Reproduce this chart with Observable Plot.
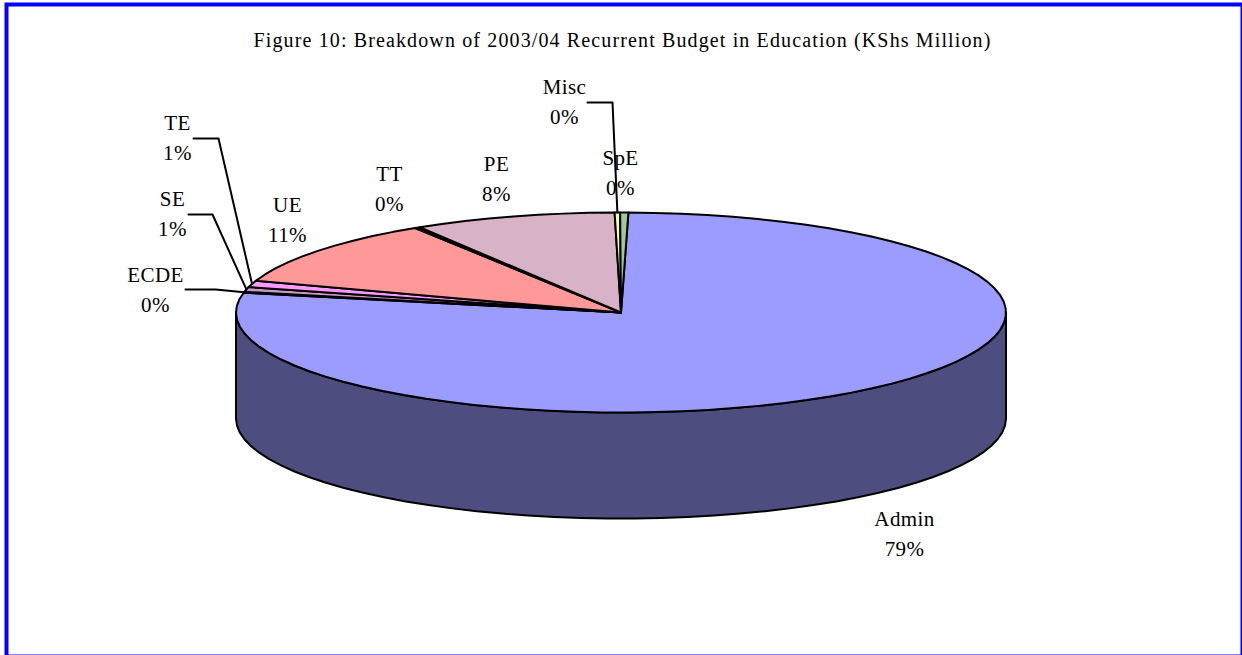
<!DOCTYPE html>
<html><head><meta charset="utf-8">
<script src="https://cdn.jsdelivr.net/npm/d3@7"></script>
<script src="https://cdn.jsdelivr.net/npm/@observablehq/plot@0.6"></script>
<style>html,body{margin:0;padding:0;background:#fff}svg{display:block}
.chart-title text{letter-spacing:1.13px}
.chart-label text{letter-spacing:0.4px}</style>
</head><body><div id="chart"></div>
<script>
const categories = ["Admin","ECDE","SE","TE","UE","TT","PE","Misc","SpE"];
const shares = [77.9,0.14,0.78,1.03,10.9,0.22,8.5,0.23,0.34];
const percentLabels = ["79%","0%","1%","1%","11%","0%","8%","0%","0%"];
const colors = ["#9C9CFF","#993366","#CC99CC","#FF99FF","#FF9999","#660066","#D8B2C6","#FFFF99","#99CC99"];
const title = "Figure 10: Breakdown of 2003/04 Recurrent Budget in Education (KShs Million)";

// layout (pixels on the page)
const W = 1242, H = 655, CX = 620.5, CY = 312, RX = 385, RY = 100, DEPTH = 1.06;
const labelAt = {Admin:[904,534],ECDE:[155,290],SE:[172,214],TE:[177,138],UE:[287,220],TT:[389,189],PE:[496,179],Misc:[564,102],SpE:[620,173]};
const elbows = {ECDE:[[185,289],[215,289]],SE:[[188,214],[212,214]],TE:[[193,138],[218,138]],Misc:[[587,102],[612,102]]};
const px = p => (p - CX) / RX, py = p => (CY - p) / RY;

const startAngle = 1.1 * Math.PI / 180;
const arcs = d3.pie().sort(null).startAngle(startAngle).endAngle(startAngle + 2 * Math.PI)
  .value((d, i) => shares[i])(categories);
// plane coordinates: the pie runs clockwise from the top
const rim = (a, drop = 0) => ({x: Math.sin(a), y: Math.cos(a) - drop});
function arcPoints(a0, a1, drop = 0) {
  const n = Math.max(2, Math.ceil(Math.abs(a1 - a0) / (4 * Math.PI / 180)));
  return d3.range(n + 1).map(i => rim(a0 + (a1 - a0) * i / n, drop));
}
const slices = arcs.map((s, i) => ({
  name: categories[i], color: colors[i], mid: (s.startAngle + s.endAngle) / 2,
  points: [{x: 0, y: 0}, ...arcPoints(s.startAngle, s.endAngle), {x: 0, y: 0}]
}));
// the visible wall: front half of the rim, extruded downward
const wall = [...arcPoints(Math.PI / 2, 3 * Math.PI / 2), ...arcPoints(3 * Math.PI / 2, Math.PI / 2, DEPTH)];
wall.push(wall[0]);

const labels = categories.map((c, i) => ({x: px(labelAt[c][0]), y: py(labelAt[c][1] - 3), t: c + "\n" + percentLabels[i]}));
const leaders = Object.keys(elbows).map(c => {
  const s = slices.find(d => d.name === c);
  return [...elbows[c].map(([a, b]) => ({x: px(a), y: py(b)})), rim(s.mid)];
});

const chart = Plot.plot({
  width: W, height: H, margin: 0, style: {background: "#fff"},
  x: {domain: [px(0), px(W)], range: [0, W], axis: null},
  y: {domain: [py(H), py(0)], range: [H, 0], axis: null},
  marks: [
    Plot.line(wall, {x: "x", y: "y", fill: "#4D4D80", stroke: "#000", strokeWidth: 2}),
    ...slices.map(s => Plot.line(s.points, {x: "x", y: "y", fill: s.color, stroke: "#000", strokeWidth: 2, strokeLinejoin: "round"})),
    ...leaders.map(l => Plot.line(l, {x: "x", y: "y", stroke: "#000", strokeWidth: 2})),
    Plot.text(labels, {x: "x", y: "y", text: "t", fontFamily: "Liberation Serif", fontSize: 21, fill: "#000", lineHeight: 1.43, className: "chart-label"}),
    Plot.text([title], {x: px(622), y: py(40), text: d => d, fontFamily: "Liberation Serif", fontSize: 20, fill: "#000", className: "chart-title"}),
    Plot.frame({stroke: "#0000FF", strokeWidth: 4, insetLeft: 6, insetTop: 4, insetRight: 0, insetBottom: -1})
  ]
});
document.getElementById("chart").append(chart);
</script></body></html>
